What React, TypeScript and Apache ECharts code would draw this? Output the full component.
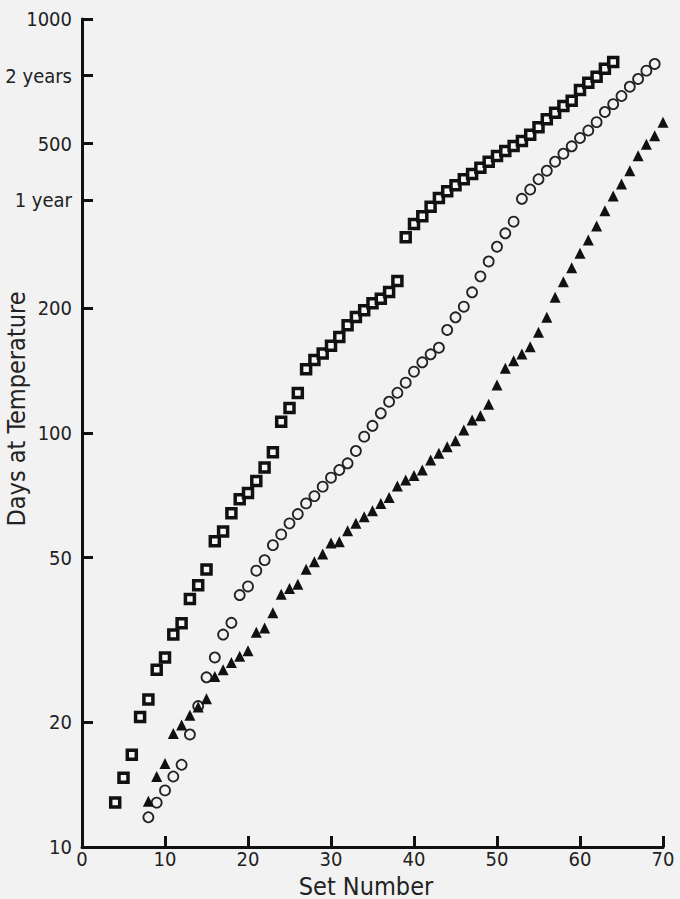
import React, { useEffect, useRef } from "react";
import * as echarts from "echarts";

// Set numbers start at these values and increase by one per point
const squareStart = 4;
const circleStart = 8;
const triangleStart = 8;

// Days at temperature (open squares), sets 4..64
const squareValues = [
  12.8, 14.7, 16.7, 20.6, 22.7, 26.8, 28.7, 32.6, 34.7, 39.7,
  42.9, 46.8, 54.8, 57.8, 64.0, 69.2, 71.6, 76.6, 82.5, 89.8,
  106.5, 114.9, 124.9, 142.5, 150.1, 155.5, 162.5, 170.6, 182.0, 190.6,
  197.9, 205.8, 211.1, 219.1, 232.9, 297, 319.8, 333.8, 352.1, 369.5,
  383.5, 396.5, 410.1, 422.4, 437.4, 452.3, 466.9, 480.1, 493.6, 507.2,
  525.3, 547.4, 572.3, 593.8, 616.4, 634.9, 673.7, 701.6, 725.4, 758.6,
  787.5,
];

// Open circles, sets 8..69
const circleValues = [
  11.8, 12.8, 13.7, 14.8, 15.8, 18.7, 21.9, 25.7, 28.7, 32.6,
  34.8, 40.6, 42.6, 46.5, 49.3, 53.6, 56.9, 60.5, 63.7, 67.6,
  70.4, 74.2, 78.0, 81.4, 84.5, 90.5, 98.0, 104.1, 111.6, 119.0,
  125.1, 132.3, 140.7, 148.2, 154.9, 160.7, 177.4, 190.3, 201.9, 218.7,
  239.0, 259.6, 281.8, 303.7, 324.0, 367.9, 387.4, 410.1, 430.1, 452.2,
  472.8, 492.7, 515.9, 537.9, 563.4, 596.4, 622.8, 651.6, 686.3, 716.4,
  750.3, 778.8,
];

// Filled triangles, sets 8..70
const triangleValues = [
  12.9, 14.8, 15.9, 18.8, 19.7, 20.8, 21.8, 22.8, 25.8, 26.8,
  27.9, 28.9, 29.8, 33.0, 33.8, 36.8, 40.8, 42.1, 43.1, 46.9,
  48.9, 51.0, 54.2, 54.6, 58.1, 60.5, 62.8, 64.9, 67.6, 69.9,
  74.5, 77.0, 79.0, 81.4, 86.1, 89.3, 92.7, 95.8, 101.7, 107.5,
  110.1, 117.3, 130.6, 143.3, 149.5, 155.1, 161.6, 175.1, 190.3, 212.7,
  232.0, 250.8, 271.8, 292.6, 316.2, 344.4, 373.7, 399.5, 430.1, 467.6,
  498.2, 522.6, 563.1,
];

// Y axis ticks (days) and their labels
const yTickValues = [10, 20, 50, 100, 200, 365, 500, 730, 1000];
const yTickLabels = ["10", "20", "50", "100", "200", "1 year", "500", "2 years", "1000"];

const xTitle = "Set Number";
const yTitle = "Days at Temperature";

const FONT = "'DejaVu Sans Condensed', 'Liberation Sans Narrow', 'DejaVu Sans', sans-serif";
const INK = "#111111";

function pairs(start: number, values: number[]) {
  return values.map((v, i) => [start + i, v]);
}

export default function App() {
  const ref = useRef<HTMLDivElement>(null);

  useEffect(() => {
    if (!ref.current) return;
    const chart = echarts.init(ref.current, null, { renderer: "svg" });
    chart.setOption({
      animation: false,
      backgroundColor: "#f2f2f2",
      grid: { left: 82, right: 17, top: 19, bottom: 52, containLabel: false },
      xAxis: {
        type: "value",
        min: 0,
        max: 70,
        interval: 10,
        axisLine: { show: true, lineStyle: { color: INK, width: 3 } },
        axisTick: { show: true, inside: true, length: 11, lineStyle: { color: INK, width: 3 } },
        axisLabel: { color: "#222", fontFamily: FONT, fontSize: 20, margin: 2 },
        splitLine: { show: false },
      },
      yAxis: {
        type: "log",
        logBase: 10,
        min: 10,
        max: 1000,
        axisLine: { show: true, lineStyle: { color: INK, width: 3 } },
        axisTick: {
          show: true,
          inside: true,
          length: 11,
          lineStyle: { color: INK, width: 3 },
          customValues: yTickValues,
        },
        axisLabel: {
          color: "#222",
          fontFamily: FONT,
          fontSize: 20,
          margin: 10,
          customValues: yTickValues,
          formatter: (v: number) => {
            const idx = yTickValues.findIndex((t) => Math.abs(t - v) < 1e-6);
            return idx >= 0 ? yTickLabels[idx] : "";
          },
        },
        splitLine: { show: false },
        minorTick: { show: false },
      },
      graphic: [
        {
          type: "text",
          x: 366,
          y: 886,
          style: {
            text: xTitle,
            fill: "#222",
            font: `25px ${FONT}`,
            align: "center",
            verticalAlign: "middle",
          },
        },
        {
          type: "text",
          x: 16,
          y: 409,
          rotation: Math.PI / 2,
          style: {
            text: yTitle,
            fill: "#222",
            font: `25px ${FONT}`,
            align: "center",
            verticalAlign: "middle",
          },
        },
      ],
      series: [
        {
          name: "circles",
          type: "scatter",
          data: pairs(circleStart, circleValues),
          symbol: "circle",
          symbolSize: 10,
          z: 2,
          itemStyle: { color: "rgba(0,0,0,0)", borderColor: "#222", borderWidth: 1.8, opacity: 1 },
        },
        {
          name: "triangles",
          type: "scatter",
          data: pairs(triangleStart, triangleValues),
          symbol: "triangle",
          symbolSize: 11,
          z: 3,
          itemStyle: { color: INK, opacity: 1 },
        },
        {
          name: "squares",
          type: "scatter",
          data: pairs(squareStart, squareValues),
          symbol: "rect",
          symbolSize: 9,
          z: 4,
          itemStyle: { color: "#f6f6f6", borderColor: INK, borderWidth: 3.5, opacity: 1 },
        },
      ],
    });
    return () => chart.dispose();
  }, []);

  return (
    <div
      ref={ref}
      style={{ position: "absolute", left: 0, top: 0, width: 680, height: 899, background: "#f2f2f2" }}
    />
  );
}
